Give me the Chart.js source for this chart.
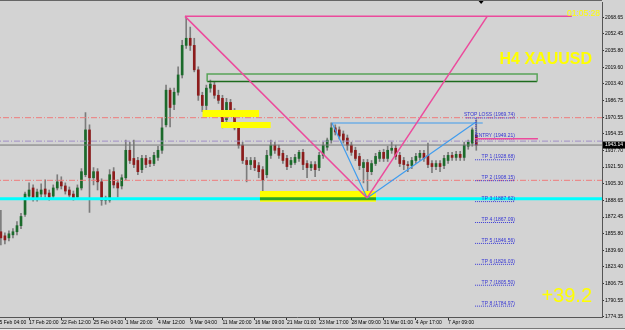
<!DOCTYPE html>
<html>
<head>
<meta charset="utf-8">
<script src="https://cdn.jsdelivr.net/npm/chart.js@4.4.1/dist/chart.umd.min.js"></script>
<style>
  html, body { margin: 0; padding: 0; background: #d3d3d3; overflow: hidden; }
  #wrap { position: absolute; left: -8px; top: 0; width: 633px; height: 330px; }
  #tabs { position: absolute; left: 0; top: 328px; width: 625px; height: 2px; background: #ececec; border-top: 1px solid #777; }
</style>
</head>
<body>
<div id="wrap"><canvas id="chart" width="633" height="330"></canvas></div>
<div id="tabs"></div>
<script>
// H4 XAUUSD candles (each candle = 2 H4 bars)
const opens = [1854, 1858, 1854, 1852, 1855, 1858, 1864, 1875, 1893, 1901,
  1891, 1895, 1900, 1896, 1893, 1901, 1907, 1903, 1899, 1895,
  1892, 1901, 1914, 1958, 1911, 1917, 1907, 1889, 1889, 1917,
  1906, 1903, 1911, 1938, 1930, 1928, 1919, 1930, 1928, 1925,
  1931, 1938, 1963, 1997, 1983, 1995, 2012, 2041, 2048, 2041,
  2017, 1992, 1982, 1999, 2002, 1992, 1989, 1968, 1985, 1976,
  1960, 1943, 1928, 1924, 1928, 1923, 1919, 1914, 1933, 1943,
  1940, 1935, 1930, 1924, 1926, 1930, 1936, 1925, 1921, 1924,
  1921, 1933, 1941, 1948, 1960, 1958, 1954, 1950, 1943, 1938,
  1932, 1921, 1926, 1917, 1925, 1930, 1936, 1930, 1938, 1940,
  1933, 1928, 1924, 1923, 1928, 1931, 1935, 1933, 1925, 1922,
  1925, 1923, 1928, 1933, 1931, 1934, 1931, 1942, 1945, 1953];
const highs = [1865, 1879, 1857, 1859, 1861, 1868, 1876, 1897, 1906, 1904,
  1900, 1905, 1909, 1899, 1904, 1914, 1912, 1906, 1902, 1898,
  1904, 1920, 1975, 1963, 1921, 1920, 1910, 1893, 1919, 1921,
  1909, 1914, 1948, 1946, 1948, 1931, 1933, 1933, 1931, 1936,
  1942, 1970, 2002, 1999, 1999, 2020, 2046, 2069, 2059, 2048,
  2020, 1995, 2002, 2007, 2005, 1997, 1992, 1989, 1988, 1979,
  1963, 1946, 1931, 1931, 1931, 1926, 1922, 1938, 1948, 1946,
  1943, 1938, 1933, 1931, 1934, 1938, 1939, 1928, 1927, 1927,
  1936, 1946, 1950, 1965, 1963, 1961, 1957, 1953, 1946, 1941,
  1935, 1929, 1929, 1928, 1935, 1938, 1939, 1942, 1946, 1943,
  1936, 1931, 1927, 1931, 1935, 1938, 1938, 1945, 1928, 1928,
  1928, 1933, 1936, 1936, 1937, 1937, 1946, 1948, 1960, 1968];
const lows = [1850, 1845, 1846, 1849, 1852, 1855, 1861, 1873, 1890, 1888,
  1888, 1892, 1892, 1889, 1890, 1899, 1900, 1895, 1892, 1889,
  1890, 1899, 1912, 1877, 1904, 1899, 1884, 1885, 1887, 1901,
  1892, 1900, 1909, 1925, 1921, 1914, 1916, 1921, 1922, 1923,
  1928, 1935, 1961, 1961, 1978, 1992, 2009, 2038, 2036, 2015,
  1987, 1976, 1975, 1995, 1989, 1984, 1960, 1965, 1973, 1958,
  1940, 1925, 1907, 1919, 1918, 1911, 1896, 1911, 1930, 1935,
  1930, 1925, 1919, 1921, 1924, 1927, 1919, 1911, 1918, 1912,
  1918, 1930, 1938, 1945, 1953, 1949, 1945, 1938, 1933, 1928,
  1919, 1906, 1891, 1914, 1923, 1927, 1927, 1927, 1935, 1929,
  1922, 1919, 1917, 1920, 1925, 1928, 1927, 1921, 1916, 1919,
  1917, 1920, 1925, 1928, 1928, 1928, 1928, 1939, 1942, 1938];
const closes = [1857, 1852, 1850, 1856, 1858, 1864, 1873, 1895, 1899, 1890,
  1897, 1899, 1895, 1892, 1901, 1907, 1903, 1898, 1894, 1891,
  1901, 1917, 1958, 1911, 1917, 1907, 1889, 1891, 1914, 1904,
  1901, 1911, 1938, 1928, 1924, 1917, 1930, 1924, 1925, 1933,
  1938, 1960, 1997, 1980, 1995, 2012, 2041, 2048, 2041, 2017,
  1992, 1982, 1999, 2003, 1992, 1987, 1963, 1985, 1976, 1960,
  1943, 1928, 1924, 1928, 1921, 1917, 1909, 1933, 1943, 1938,
  1933, 1928, 1922, 1928, 1931, 1936, 1924, 1921, 1924, 1919,
  1933, 1943, 1948, 1960, 1956, 1952, 1948, 1943, 1936, 1930,
  1923, 1926, 1917, 1925, 1932, 1936, 1930, 1938, 1940, 1932,
  1925, 1924, 1923, 1928, 1932, 1935, 1930, 1924, 1922, 1925,
  1922, 1930, 1933, 1931, 1934, 1931, 1943, 1946, 1958, 1943.14];

const timeTickPos = [0, 8, 16, 24, 32, 40, 48, 56, 64, 72, 80, 88, 96, 104, 112];
const timeLabels = ['15 Feb 04:00', '17 Feb 20:00', '22 Feb 12:00', '25 Feb 04:00', '1 Mar 20:00',
  '4 Mar 12:00', '9 Mar 04:00', '11 Mar 20:00', '16 Mar 09:00', '21 Mar 01:00', '23 Mar 17:00',
  '28 Mar 09:00', '31 Mar 01:00', '4 Apr 17:00', '7 Apr 09:00'];
const priceTicks = [2068.65, 2052.45, 2035.80, 2019.60, 2003.40, 1986.75, 1970.55, 1954.35, 1937.70,
  1921.50, 1905.30, 1888.65, 1872.45, 1855.80, 1839.60, 1823.40, 1806.75, 1790.55, 1774.35];

// trade levels
const tagNames = ['STOP LOSS', 'ENTRY', 'TP 1', 'TP 2', 'TP 3', 'TP 4', 'TP 5', 'TP 6', 'TP 7', 'TP 8'];
const tagLevels = [1969.74, 1949.21, 1928.68, 1908.15, 1887.62, 1867.09, 1846.56, 1826.03, 1805.50, 1784.97];
const tagSpanStart = [116.4, 118.7, 118.7, 118.7, 118.7, 118.7, 118.7, 118.7, 118.7, 118.7];
const tagSpanEnd = 128.6;
const entryLine = [118.7, 134.3];
const tradeVertical = [[118.9, 1969.74], [118.9, 1943.14]];

// drawn objects
const redDashLevels = [1970.0, 1908.5];
const purpleDashLevel = 1947.0;
const cyanLevel = 1890.5;
const pinkSegments = [
  [[46.7, 2069.5], [91.9, 1891.2]],
  [[91.9, 1891.2], [121.7, 2069.5]],
  [[46.7, 2069.5], [142.7, 2069.5]]
];
const blueSegments = [
  [[83.2, 1964.8], [91.9, 1891.2]],
  [[91.9, 1891.2], [118.9, 1965.8]],
  [[83.2, 1964.8], [120.6, 1964.8]]
];
const yellowZones = [[51.0, 65.1, 1977.6, 1970.7], [55.6, 68.0, 1965.8, 1959.9], [65.3, 94.1, 1898.0, 1887.5]];
const greenZone = [52.2, 134.1, 2012.9, 2005.6];

const symbolTitle = 'H4 XAUUSD';
const pipsResult = '+39.2';
const clockText = '01:05:28';

const xMin = -1.2, xMax = 150.2;
const yMin = 1774.3, yMax = 2083.6;
const tinyFont = '"Liberation Sans", Arial, sans-serif';

function lineSet(points, color, width, dash, order) {
  return {
    type: 'line',
    data: points.map(p => ({x: p[0], y: p[1]})),
    borderColor: color,
    borderWidth: width,
    borderDash: dash,
    pointRadius: 0,
    fill: false,
    tension: 0,
    order: order
  };
}

const datasets = [];

// full width levels
redDashLevels.forEach(lvl => datasets.push(lineSet([[xMin, lvl], [xMax, lvl]], '#ef7b7b', 1, [6, 2, 1, 2], 6)));
datasets.push(lineSet([[xMin, purpleDashLevel], [xMax, purpleDashLevel]], '#a08ec6', 1, [6, 2, 1, 2], 6));
datasets.push(lineSet([[xMin, closes[closes.length - 1]], [xMax, closes[closes.length - 1]]], '#787878', 1, [], 6));
datasets.push(lineSet([[xMin, cyanLevel], [xMax, cyanLevel]], '#00ffff', 3, [], 5));

// yellow zones
yellowZones.forEach(z => {
  const ds = lineSet([[z[0], z[2]], [z[1], z[2]]], 'rgba(0,0,0,0)', 0, [], 4);
  ds.fill = {value: z[3]};
  ds.backgroundColor = '#ffff00';
  datasets.push(ds);
});
datasets.push(lineSet([[yellowZones[2][0], cyanLevel], [yellowZones[2][1], cyanLevel]], '#2aa52a', 3, [], 3));

// green zone outline
const g = greenZone;
datasets.push(lineSet([[g[0], g[3]], [g[0], g[2]], [g[1], g[2]], [g[1], g[3]]], '#58a458', 1.5, [], 3));
datasets.push(lineSet([[g[0], g[3]], [g[1], g[3]]], '#1d6b1d', 1.5, [], 3));

// pattern lines
blueSegments.forEach(l => datasets.push(lineSet(l, '#3f9cee', 1.2, [], 2)));
pinkSegments.forEach(l => datasets.push(lineSet(l, '#ec4a9c', 1.5, [], 1)));
datasets.push(lineSet([[entryLine[0], tagLevels[1]], [entryLine[1], tagLevels[1]]], '#ec4a9c', 1.5, [], 1));

// trade tag dotted lines
tagLevels.forEach((lvl, i) => datasets.push(lineSet([[tagSpanStart[i], lvl], [tagSpanEnd, lvl]], '#3a3ad8', 1, [1, 1], 1)));
datasets.push(lineSet(tradeVertical, '#3a3ad8', 1, [1, 1], 1));

// candles
const candleX = opens.map((o, i) => i);
datasets.push({
  type: 'bar',
  data: candleX.map((x, i) => ({x: x, y: [opens[i], closes[i]]})),
  backgroundColor: closes.map((c, i) => c >= opens[i] ? '#1b6a2b' : '#8c1c1c'),
  barThickness: 2,
  minBarLength: 1,
  grouped: false,
  order: 10
});
datasets.push({
  type: 'bar',
  data: candleX.map((x, i) => ({x: x, y: [lows[i], highs[i]]})),
  backgroundColor: '#7c7c7c',
  barThickness: 1,
  grouped: false,
  order: 11
});

const overlayText = {
  id: 'overlayText',
  afterDatasetsDraw(chart) {
    const {ctx, chartArea, scales: {x, y}} = chart;
    ctx.save();
    ctx.font = '5px ' + tinyFont;
    ctx.fillStyle = '#3535d4';
    ctx.textAlign = 'right';
    ctx.textBaseline = 'alphabetic';
    tagNames.forEach((name, i) => {
      ctx.fillText(name + ' (' + tagLevels[i].toFixed(2) + ')', x.getPixelForValue(tagSpanEnd), y.getPixelForValue(tagLevels[i]) - 1.5);
    });

    ctx.fillStyle = '#ffff00';
    ctx.font = 'bold 16px ' + tinyFont;
    ctx.fillText(symbolTitle, chartArea.right - 10, 63.5);
    ctx.font = '20px ' + tinyFont;
    ctx.fillText(pipsResult, chartArea.right - 10, 302);
    ctx.font = '8.5px ' + tinyFont;
    ctx.fillText(clockText, chartArea.right - 2, 16);
    ctx.restore();
  },
  afterDraw(chart) {
    const {ctx, chartArea, scales: {x, y}} = chart;
    ctx.save();
    // top frame
    ctx.strokeStyle = '#666';
    ctx.lineWidth = 1;
    ctx.beginPath();
    ctx.moveTo(0, 0.5);
    ctx.lineTo(chartArea.right, 0.5);
    ctx.stroke();
    // chart shift marker
    const sx = x.getPixelForValue(candleX.length + 0.2);
    ctx.fillStyle = '#000';
    ctx.beginPath();
    ctx.moveTo(sx - 2.5, 1);
    ctx.lineTo(sx + 2.5, 1);
    ctx.lineTo(sx, 4);
    ctx.closePath();
    ctx.fill();
    // bid price box
    const last = closes[closes.length - 1];
    const py = y.getPixelForValue(last);
    ctx.fillStyle = '#000';
    ctx.fillRect(chartArea.right + 1, py - 3.5, 23, 7);
    ctx.fillStyle = '#fff';
    ctx.font = '5px ' + tinyFont;
    ctx.textAlign = 'left';
    ctx.textBaseline = 'middle';
    ctx.fillText(last.toFixed(2), chartArea.right + 3, py);
    ctx.restore();
  }
};

new Chart(document.getElementById('chart'), {
  type: 'bar',
  data: {datasets: datasets},
  options: {
    responsive: false,
    animation: false,
    events: [],
    layout: {padding: {top: 2, left: 0, right: 0, bottom: 0}},
    plugins: {legend: {display: false}, tooltip: {enabled: false}},
    scales: {
      x: {
        type: 'linear',
        min: xMin,
        max: xMax,
        offset: false,
        afterBuildTicks: s => { s.ticks = timeTickPos.map(v => ({value: v})); },
        afterFit: s => { s.height = 13; s.paddingLeft = 0; s.paddingRight = 0; },
        ticks: {
          autoSkip: false, maxRotation: 0, minRotation: 0, align: 'start', padding: 0,
          color: '#000', font: {family: tinyFont, size: 5},
          callback: (v, i) => timeLabels[i]
        },
        grid: {drawOnChartArea: false, tickLength: 3, color: '#333', offset: false},
        border: {color: '#555'}
      },
      y: {
        position: 'right',
        min: yMin,
        max: yMax,
        beginAtZero: false,
        afterBuildTicks: s => { s.ticks = priceTicks.map(v => ({value: v})); },
        afterFit: s => { s.width = 23; s.paddingTop = 0; s.paddingBottom = 0; },
        ticks: {
          padding: 1, color: '#000', font: {family: tinyFont, size: 5},
          callback: v => v.toFixed(2)
        },
        grid: {drawOnChartArea: false, tickLength: 2, color: '#333'},
        border: {color: '#555'}
      }
    }
  },
  plugins: [overlayText]
});
</script>
</body>
</html>
